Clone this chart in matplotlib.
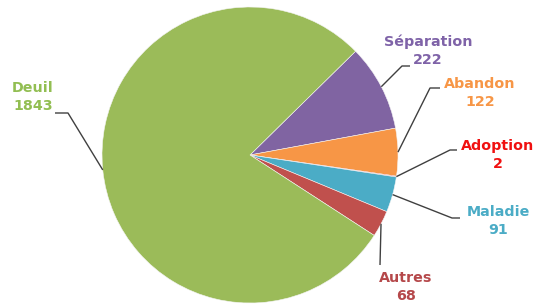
import numpy as np
import matplotlib
matplotlib.use("Agg")
import matplotlib.pyplot as plt

# data, in drawing order (clockwise from the top of "Séparation")
labels = ["Séparation", "Abandon", "Adoption", "Maladie", "Autres", "Deuil"]
values = [222, 122, 2, 91, 68, 1843]

wedge_colors = ["#8064A2", "#F79646", "#FF0000", "#4BACC6", "#C0504D", "#9BBB59"]
text_colors = ["#7F63A8", "#F79646", "#F01010", "#4BACC6", "#B5484A", "#92BE52"]

W, H = 537, 304
CX, CY, R = 250, 149, 148
START = 44.5

# elbow (knee) and end of each leader line, then text centre (pixel coords, y down)
knees = [(402, 66), (430, 88), (450, 150), (452, 218), (380, 265), (68, 113)]
ends = [(410, 66), (440, 88), (457, 150), (460, 218), (380, 265), (55, 113)]
text_pos = [(428, 51), (480, 93), (498, 155), (498, 221), (406, 287), (33, 97)]

fig = plt.figure(figsize=(W / 100, H / 100), dpi=100)
ax = fig.add_axes([0, 0, 1, 1])

wedges, _ = ax.pie(values, colors=wedge_colors, startangle=START, counterclock=False,
                   center=(CX, CY), radius=R, frame=True,
                   wedgeprops=dict(linewidth=0.4, edgecolor="#f4f4f4"))
ax.set_xlim(0, W)
ax.set_ylim(0, H)
ax.set_aspect("equal")
ax.axis("off")

for w, lab, val, knee, end, tp, tc in zip(wedges, labels, values, knees, ends,
                                          text_pos, text_colors):
    mid = np.deg2rad((w.theta1 + w.theta2) / 2)
    x0 = CX + R * np.cos(mid)
    y0 = CY + R * np.sin(mid)
    xs = [x0, knee[0], end[0]]
    ys = [y0, H - knee[1], H - end[1]]
    ax.plot(xs, ys, color="#404040", lw=1.0, solid_capstyle="butt", zorder=5)
    ax.text(tp[0], H - tp[1], f"{lab}\n{val}", ha="center", va="center",
            fontsize=10.3, fontweight="bold", color=tc, family="DejaVu Sans",
            linespacing=1.38)

fig.savefig("out.png", dpi=100, facecolor="white")
